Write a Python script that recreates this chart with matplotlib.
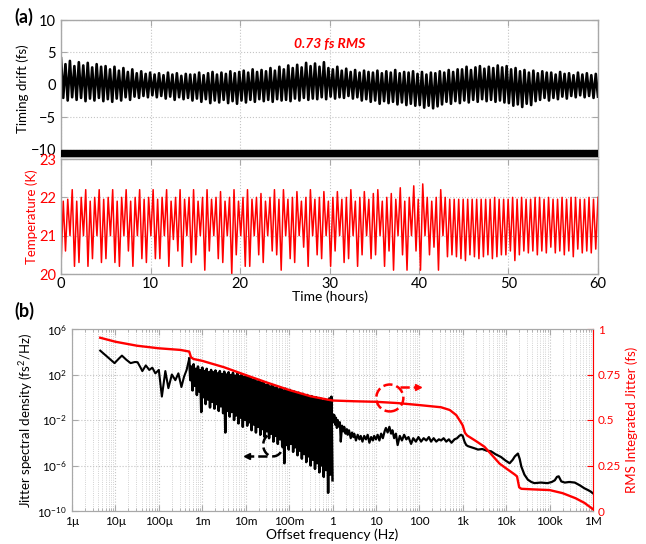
import numpy as np
import matplotlib
matplotlib.use("Agg")
import matplotlib.pyplot as plt
from matplotlib.patches import Ellipse
from matplotlib.ticker import LogLocator, NullLocator, NullFormatter

plt.rcParams['font.family'] = ['Lato', 'DejaVu Sans']
plt.rcParams['mathtext.fontset'] = 'custom'
plt.rcParams['mathtext.rm'] = 'Lato'
plt.rcParams['mathtext.it'] = 'Lato:italic'
plt.rcParams['mathtext.bf'] = 'Lato:bold'

# timing drift envelope (fs), one value every half hour, 0..60 h
drift_hi = [4.1, 3.2, 3.7, 2.9, 3.5, 3.0, 3.4, 2.7, 3.2, 2.8,
            2.9, 2.4, 2.8, 2.2, 2.6, 2.0, 2.4, 1.8, 2.1, 1.7,
            1.9, 1.6, 1.8, 1.5, 1.9, 1.6, 1.8, 1.4, 1.7, 1.6,
            1.6, 1.9, 1.5, 1.8, 2.0, 1.6, 1.9, 1.7, 2.1, 1.8,
            2.0, 2.2, 1.9, 2.4, 2.0, 2.3, 2.1, 2.6, 2.2, 2.8,
            2.4, 3.0, 2.6, 3.1, 2.7, 3.4, 2.9, 3.3, 2.8, 3.5,
            2.6, 2.4, 2.8, 2.2, 2.5, 2.0, 2.3, 1.9, 2.2, 2.0,
            1.9, 2.2, 1.8, 2.1, 1.9, 2.3, 1.8, 2.0, 1.9, 2.1,
            1.7, 2.0, 1.6, 1.9, 1.8, 2.1, 1.9, 2.3, 2.0, 2.4,
            2.4, 2.8, 2.3, 2.7, 2.9, 2.5, 2.8, 2.6, 3.0, 2.7,
            2.9, 2.4, 2.6, 2.1, 2.3, 1.9, 2.2, 1.8, 2.1, 1.9,
            1.9, 1.6, 2.0, 1.7, 1.8, 1.5, 1.9, 1.6, 1.8, 1.5,
            1.7]
drift_lo = [-2.0, -2.4, -1.9, -2.3, -2.0, -2.5, -2.1, -2.4, -2.0, -2.5,
            -2.2, -2.6, -2.1, -2.4, -1.9, -2.3, -1.8, -2.0, -1.7, -1.9,
            -1.6, -1.9, -1.7, -2.1, -1.8, -2.3, -1.9, -2.2, -2.0, -2.4,
            -2.1, -2.6, -2.2, -2.8, -2.4, -2.7, -2.3, -2.8, -2.5, -2.9,
            -2.4, -2.7, -2.3, -2.6, -2.2, -2.5, -2.3, -2.6, -2.2, -2.4,
            -2.3, -2.5, -2.1, -2.4, -2.0, -2.3, -2.1, -2.2, -1.9, -2.2,
            -1.8, -2.1, -1.9, -2.0, -1.7, -2.1, -1.9, -2.4, -2.2, -2.6,
            -2.4, -2.9, -2.5, -2.8, -2.6, -3.0, -2.7, -3.1, -2.9, -3.2,
            -3.1, -3.5, -3.2, -3.6, -3.3, -3.0, -2.6, -2.9, -2.5, -2.8,
            -2.4, -2.7, -2.3, -2.6, -2.2, -2.5, -2.3, -2.6, -2.4, -2.7,
            -2.8, -3.2, -3.0, -3.4, -2.9, -3.1, -2.5, -2.3, -2.0, -2.4,
            -2.0, -2.2, -1.8, -2.1, -1.7, -1.9, -1.6, -1.9, -1.7, -2.0,
            -1.8]

# temperature (K): trough and peak of each ~30 min cycle
temp_low = [20.2, 20.6, 21.0, 20.2, 20.3, 21.0, 20.2, 20.4, 21.0, 20.3,
            20.4, 21.0, 20.3, 20.2, 21.0, 20.6, 20.2, 21.0, 20.4, 20.3,
            21.0, 20.4, 20.4, 21.0, 20.2, 20.9, 20.6, 20.2, 21.0, 20.3,
            20.5, 21.0, 20.1, 20.6, 21.0, 20.4, 20.3, 21.0, 20.0, 20.5,
            21.0, 20.2, 20.2, 21.0, 20.5, 20.3, 21.0, 20.6, 20.5, 20.1,
            21.0, 20.4, 20.3, 21.0, 20.7, 20.2, 21.0, 20.5, 20.4, 21.0,
            20.2, 20.6, 21.0, 20.3, 20.4, 21.0, 20.2, 20.5, 21.0, 20.4,
            20.5, 21.0, 20.2, 20.6, 20.1, 21.0, 20.5, 20.1, 21.0, 20.6,
            20.1, 21.0, 20.5, 20.7, 20.1, 21.0,
            20.45, 20.5, 20.45, 20.4, 20.35, 20.5, 20.45, 20.4, 20.45, 20.5,
            20.4, 20.45, 20.5, 20.5, 20.6, 20.35, 20.5, 20.6, 20.55, 20.6,
            20.5, 20.6, 20.55, 20.7, 20.55, 20.6, 20.5, 20.6, 20.45, 20.65,
            20.55, 20.6, 20.55, 20.65]
temp_high = [21.9, 21.95, 22.2, 21.9, 22.0, 22.2, 21.9, 22.0, 22.2, 21.95,
             22.0, 22.2, 21.9, 22.0, 22.2, 21.9, 22.0, 22.2, 21.95, 22.0,
             22.2, 21.95, 22.0, 22.2, 21.9, 22.0, 22.2, 21.95, 22.0, 22.2,
             21.9, 22.0, 22.2, 21.95, 22.0, 22.15, 21.9, 22.0, 22.2, 21.9,
             22.0, 22.2, 21.95, 22.0, 22.1, 21.9, 22.0, 22.2, 21.95, 22.2,
             21.95, 22.0, 22.15, 21.9, 22.0, 22.2, 21.95, 22.0, 22.15, 21.9,
             22.0, 22.15, 21.95, 22.0, 22.2, 21.9, 22.0, 22.15, 21.95, 22.1,
             22.2, 21.9, 22.0, 22.1, 21.95, 22.25, 21.9, 22.0, 22.3, 21.95,
             22.35, 22.0, 21.9, 22.0, 22.2, 22.0,
             21.95, 21.95, 21.95, 21.95, 21.95, 21.95, 21.95, 21.95, 21.95, 21.95,
             22.0, 21.95, 21.95, 21.95, 22.0, 21.95, 22.0, 21.95, 21.95, 22.0,
             22.0, 21.95, 22.0, 21.95, 21.95, 22.0, 21.95, 22.0, 22.0, 21.95,
             21.95, 22.0, 21.95, 22.0]

# jitter PSD, log10 values. low-frequency part (5 uHz .. 0.5 mHz)
lf_f = [-5.35, -5.2, -5.02, -4.92, -4.85, -4.75, -4.65, -4.55, -4.49, -4.42,
        -4.38, -4.3, -4.22, -4.15, -4.08, -4.0, -3.93, -3.85, -3.78, -3.7,
        -3.62, -3.55, -3.48, -3.42, -3.36, -3.3]
lf_psd = [4.1, 3.6, 3.0, 3.4, 3.66, 3.3, 3.0, 3.1, 3.08, 2.6,
          2.3, 2.8, 2.4, 2.6, 2.1, 2.4, 0.06, 2.3, 0.8, 2.0,
          1.5, 2.1, 0.9, 1.8, 2.4, 3.4]

# dense noisy band, 0.5 mHz .. 1 Hz (upper / lower edge)
band_hi = [3.4, 2.7, 2.9, 2.5, 2.7, 2.4, 2.6, 2.3, 2.5, 2.2,
           2.4, 2.2, 2.35, 2.1, 2.3, 2.05, 2.25, 2.0, 2.2, 1.95,
           2.15, 1.9, 2.1, 1.85, 2.0, 1.8, 1.9, 1.7, 1.75, 1.55,
           1.6, 1.4, 1.45, 1.25, 1.3, 1.1, 1.15, 0.95, 1.05, 0.85,
           0.9, 0.7, 0.8, 0.6, 0.75, 0.55, 0.65, 0.45, 0.5, 0.3,
           0.4, 0.2, 0.3, 0.1, 0.2, 0.0, 0.1, -0.1, 0.0, -0.2,
           -0.1, -0.3, -0.2, -0.35, -0.1, 0.05]
band_lo = [1.5, 0.6, 1.0, 0.2, 0.5, -1.3, 0.0, -0.6, -0.2, -0.9,
           -0.4, -1.0, -0.6, -1.2, -0.8, -1.4, -3.1, -1.2, -1.7, -1.3,
           -2.0, -1.6, -2.3, -1.8, -2.6, -2.0, -2.5, -2.2, -2.9, -2.4,
           -3.1, -2.6, -3.3, -2.8, -3.5, -3.0, -3.6, -3.2, -3.9, -3.4,
           -4.1, -3.7, -4.3, -5.8, -4.2, -4.6, -4.1, -4.8, -4.4, -5.1,
           -4.7, -5.4, -5.0, -5.7, -5.2, -6.0, -5.5, -6.3, -5.8, -6.6,
           -6.0, -7.0, -6.4, -8.4, -6.8, -7.3]

# high-frequency part (1 Hz .. 1 MHz)
hf_f = [0.00, 0.02, 0.04, 0.06, 0.08, 0.10, 0.12, 0.15, 0.17, 0.19,
        0.22, 0.25, 0.27, 0.30, 0.33, 0.35, 0.38, 0.42, 0.45, 0.48,
        0.50, 0.54, 0.58, 0.62, 0.65, 0.69, 0.73, 0.77, 0.81, 0.85,
        0.89, 0.93, 0.96, 1.00, 1.04, 1.08, 1.12, 1.16, 1.20, 1.23,
        1.27, 1.31, 1.35, 1.38, 1.42, 1.46, 1.50, 1.55, 1.60, 1.65,
        1.70, 1.75, 1.81, 1.86, 1.92, 1.98, 2.04, 2.10, 2.16, 2.22,
        2.27, 2.33, 2.39, 2.45, 2.50, 2.56, 2.62, 2.68, 2.74, 2.81,
        2.87, 2.92, 2.96, 3.00, 3.04, 3.08, 3.12, 3.20, 3.28, 3.35,
        3.45, 3.55, 3.65, 3.75, 3.88, 3.98, 4.08, 4.15, 4.20, 4.27,
        4.31, 4.35, 4.42, 4.50, 4.58, 4.65, 4.80, 4.95, 5.05, 5.12,
        5.17, 5.21, 5.27, 5.35, 5.45, 5.58, 5.70, 5.80, 5.88, 5.95,
        6.00]
hf_psd = [-1.5, -2.2, -1.55, -2.4, -1.8, -2.7, -2.0, -2.6, -2.2, -3.9,
          -2.5, -3.0, -2.6, -3.2, -2.8, -3.3, -2.9, -3.6, -3.1, -3.5,
          -3.2, -3.8, -3.3, -3.7, -3.4, -3.9, -3.4, -3.7, -3.3, -4.0,
          -3.5, -3.8, -3.4, -3.7, -3.3, -3.8, -3.2, -3.6, -3.0, -2.7,
          -3.1, -2.6, -3.2, -2.9, -3.6, -3.2, -4.2, -3.4, -3.8, -3.3,
          -3.7, -3.5, -4.1, -3.6, -3.9, -3.5, -3.9, -3.6, -3.8, -3.5,
          -3.9, -3.6, -3.9, -3.7, -3.8, -3.6, -3.9, -3.7, -4.0, -3.7,
          -3.6, -3.4, -3.3, -3.4, -3.9, -4.2, -4.3, -4.4, -4.5, -4.6,
          -4.55, -4.7, -4.75, -5.0, -5.25, -5.55, -5.8, -5.5, -5.2, -4.95,
          -5.4, -6.1, -6.8, -7.25, -7.45, -7.55, -7.5, -7.55, -7.45, -7.3,
          -7.0, -6.95, -7.4, -7.5, -7.45, -7.5, -7.75, -8.0, -8.15, -8.3,
          -8.45]

# RMS integrated jitter (fs)
rms_f = [-5.35, -5.0, -4.5, -4.0, -3.5, -3.3, -3.26, -3.2, -3.0, -2.5,
         -2.0, -1.5, -1.0, -0.5, 0.0, 0.5, 1.0, 1.5, 2.0, 2.5,
         2.7, 2.85, 2.95, 3.0, 3.05, 3.1, 3.3, 3.5, 3.7, 3.85,
         4.0, 4.2, 4.25, 4.3, 4.35, 4.6, 5.0, 5.3, 5.6, 5.8, 6.0]
rms_val = [0.952, 0.93, 0.908, 0.894, 0.885, 0.876, 0.845, 0.835, 0.825, 0.79,
           0.747, 0.705, 0.665, 0.63, 0.607, 0.603, 0.6, 0.593, 0.582, 0.57,
           0.555, 0.527, 0.49, 0.47, 0.43, 0.415, 0.385, 0.353, 0.30, 0.26,
           0.234, 0.2, 0.19, 0.13, 0.122, 0.119, 0.115, 0.098, 0.07, 0.045, 0.01]

freq_ticks = [1e-6, 1e-5, 1e-4, 1e-3, 1e-2, 1e-1, 1, 10, 100, 1e3, 1e4, 1e5, 1e6]
freq_labels = ['1µ', '10µ', '100µ', '1m', '10m', '100m', '1', '10', '100',
               '1k', '10k', '100k', '1M']
psd_ticks = [1e-10, 1e-6, 1e-2, 1e2, 1e6]
psd_labels = [r'$10^{-10}$', r'$10^{-6}$', r'$10^{-2}$', r'$10^{2}$', r'$10^{6}$']

GRID = '#c4c4c4'
SPINE = '#a8a8a8'


def style_axes(ax):
    for s in ax.spines.values():
        s.set_color(SPINE)
        s.set_linewidth(1.0)
    ax.tick_params(direction='in', top=True, right=True, color=SPINE,
                   length=4, labelsize=10.5)
    ax.grid(True, linestyle=':', color=GRID, linewidth=0.8)
    ax.set_axisbelow(True)


fig = plt.figure(figsize=(6.46, 5.44), dpi=100)

# (a) timing drift
ax1 = fig.add_axes([61 / 646, 1 - 157 / 544, 537 / 646, 137 / 544])
style_axes(ax1)
t_drift = np.linspace(0, 60, 2 * len(drift_hi))
ax1.plot(t_drift, np.column_stack([drift_hi, drift_lo]).ravel(), color='k', lw=1.9)
ax1.axhspan(-11.1, -10, color='k', zorder=3)
ax1.set_xlim(0, 60)
ax1.set_ylim(-11.1, 10)
ax1.set_xticks(range(0, 61, 10))
ax1.set_yticks([-10, -5, 0, 5, 10])
ax1.set_xticklabels([])
ax1.set_ylabel('Timing drift (fs)', fontsize=9.5, labelpad=1)
ax1.text(0.5, 0.825, '0.73 fs RMS', transform=ax1.transAxes, color='red',
         fontsize=10, fontweight='bold', fontstyle='italic', ha='center', va='center')

# temperature
ax2 = fig.add_axes([61 / 646, 1 - 274 / 544, 537 / 646, 115 / 544])
style_axes(ax2)
t_temp = np.linspace(0, 60, 2 * len(temp_low))
ax2.plot(t_temp, np.column_stack([temp_low, temp_high]).ravel(), color='red', lw=1.1)
ax2.set_xlim(0, 60)
ax2.set_ylim(20, 23)
ax2.set_xticks(range(0, 61, 10))
ax2.set_yticks([20, 21, 22, 23])
ax2.tick_params(axis='y', labelcolor='red')
ax2.tick_params(axis='x', pad=2)
ax2.set_ylabel('Temperature (K)', color='red', fontsize=9.5, labelpad=1)
ax2.set_xlabel('Time (hours)', fontsize=10, labelpad=0)

# (b) jitter spectral density
ax3 = fig.add_axes([72 / 646, 1 - 511 / 544, 521 / 646, 182 / 544])
for s in ax3.spines.values():
    s.set_color(SPINE)
ax3.set_xscale('log')
ax3.set_yscale('log')
ax3.set_xlim(1e-6, 1e6)
ax3.set_ylim(1e-10, 1e6)
ax3.set_xticks(freq_ticks)
ax3.set_xticklabels(freq_labels)
ax3.xaxis.set_minor_locator(LogLocator(base=10, subs=np.arange(2, 10), numticks=50))
ax3.xaxis.set_minor_formatter(NullFormatter())
ax3.set_yticks(psd_ticks)
ax3.set_yticklabels(psd_labels)
ax3.yaxis.set_minor_locator(NullLocator())
ax3.tick_params(which='both', direction='in', top=True, color=SPINE, labelsize=8.5)
ax3.tick_params(which='major', length=4)
ax3.tick_params(which='minor', length=2)
ax3.grid(True, which='major', linestyle=':', color=GRID, linewidth=0.8)
ax3.grid(True, which='minor', axis='x', linestyle=':', color=GRID, linewidth=0.6)
ax3.set_axisbelow(True)

ax3.plot(10 ** np.array(lf_f), 10 ** np.array(lf_psd), color='k', lw=1.5)
band_f = np.linspace(-3.3, 0, 2 * len(band_hi))
band_v = np.column_stack([band_hi, band_lo]).ravel()
ax3.plot(10 ** band_f, 10 ** band_v, color='k', lw=1.8)
ax3.plot(10 ** np.array(hf_f), 10 ** np.array(hf_psd), color='k', lw=1.6)
ax3.set_xlabel('Offset frequency (Hz)', fontsize=10, labelpad=1)
ax3.set_ylabel(r'Jitter spectral density (fs$^2$/Hz)', fontsize=9.5, labelpad=2)

ax4 = ax3.twinx()
ax4.plot(10 ** np.array(rms_f), rms_val, color='red', lw=1.7)
ax4.set_ylim(0, 1)
ax4.set_yticks([0, 0.25, 0.5, 0.75, 1])
ax4.set_yticklabels(['0', '0.25', '0.5', '0.75', '1'])
ax4.tick_params(direction='in', color='red', labelcolor='red', labelsize=8.5, length=4)
for name, s in ax4.spines.items():
    s.set_color('red' if name == 'right' else SPINE)
ax4.set_ylabel('RMS Integrated Jitter (fs)', color='red', fontsize=9.5, labelpad=3)

# dashed circles with arrows
ax4.add_patch(Ellipse((0.386, 0.363), 0.038, 0.126, transform=ax4.transAxes,
                      fill=False, ec='k', ls='--', lw=1.8))
ax4.plot([0.375, 0.34], [0.30, 0.30], transform=ax4.transAxes, color='k', ls='--', lw=1.8)
ax4.plot([0.335], [0.30], transform=ax4.transAxes, color='k', marker='<', ms=5)
ax4.add_patch(Ellipse((0.610, 0.621), 0.052, 0.148, transform=ax4.transAxes,
                      fill=False, ec='red', ls='--', lw=1.8))
ax4.plot([0.63, 0.66], [0.68, 0.68], transform=ax4.transAxes, color='red', ls='--', lw=1.8)
ax4.plot([0.665], [0.68], transform=ax4.transAxes, color='red', marker='>', ms=5)

fig.text(24 / 646, 1 - 17 / 544, '(a)', fontsize=13, fontweight='bold', ha='center', va='center')
fig.text(24 / 646, 1 - 311 / 544, '(b)', fontsize=13, fontweight='bold', ha='center', va='center')

fig.savefig('out.png', dpi=100)
